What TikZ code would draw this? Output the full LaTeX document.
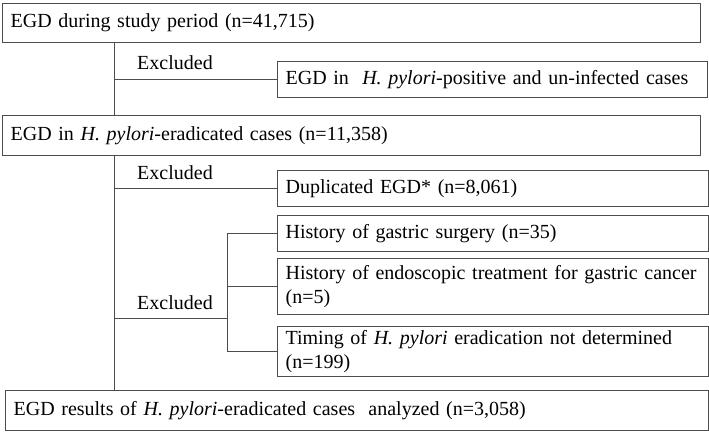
\documentclass[tikz,border=0pt]{standalone}
\usepackage{fontspec}
\setmainfont{Liberation Serif}

\begin{document}
\begin{tikzpicture}[x=1pt,y=-1pt,line width=1pt,
  box/.style={draw=black!70,line width=1.2pt,rectangle,anchor=north west,
    inner xsep=8pt,inner ysep=2pt,align=left,font=\fontsize{20}{24}\selectfont},
  lbl/.style={font=\fontsize{20}{24}\selectfont}]
  % page size = 709 x 433 px, 1px = 1pt, y runs downwards
  \useasboundingbox (0,0) rectangle (709,433);
  \def\trunkx{114}
  \def\forkx{227}

  % main column
  \node[box,text width=682pt,minimum height=39pt] (study) at (2,3)
    {EGD during study period (n=41,715)};
  \node[box,text width=682pt,minimum height=40pt] (erad) at (2,115)
    {EGD in \textit{H. pylori}-eradicated cases (n=11,358)};
  \node[box,text width=687pt,minimum height=40pt] (analyzed) at (5,390)
    {EGD results of \textit{H. pylori}-eradicated cases\ \ analyzed (n=3,058)};

  % excluded boxes
  \node[box,text width=414pt,minimum height=36pt] (posinf) at (277,61)
    {EGD in\ \ \textit{H. pylori}-positive and un-infected cases};
  \node[box,text width=415pt,minimum height=36pt] (dup) at (277,170)
    {Duplicated EGD* (n=8,061)};
  \node[box,text width=415pt,minimum height=36pt] (surg) at (277,215)
    {History of gastric surgery (n=35)};
  \node[box,text width=415pt,minimum height=56pt] (endo) at (277,258)
    {\mbox{History of endoscopic treatment for gastric cancer}\\(n=5)};
  \node[box,text width=415pt,minimum height=50pt] (timing) at (277,326)
    {Timing of \textit{H. pylori} eradication not determined\\(n=199)};

  % labels
  \node[lbl] (exclA) at (175,63) {Excluded};
  \node[lbl] (exclB) at (175,173) {Excluded};
  \node[lbl] (exclC) at (175,303) {Excluded};

  % trunks
  \coordinate (trunk) at (\trunkx,0);
  \coordinate (fork) at (\forkx,318);
  \draw[black!70] (study.south -| trunk) -- (erad.north -| trunk);
  \draw[black!70] (erad.south -| trunk) -- (analyzed.north -| trunk);
  \draw[black!70] (posinf.west -| trunk) -- (posinf.west);
  \draw[black!70] (dup.west -| trunk) -- (dup.west);

  % fork
  \draw[black!70] (fork -| trunk) -- (fork);
  \draw[black!70] (surg.west -| fork) -- (timing.west -| fork);
  \foreach \n in {surg,endo,timing}
    \draw[black!70] (\n.west -| fork) -- (\n.west);
\end{tikzpicture}
\end{document}
